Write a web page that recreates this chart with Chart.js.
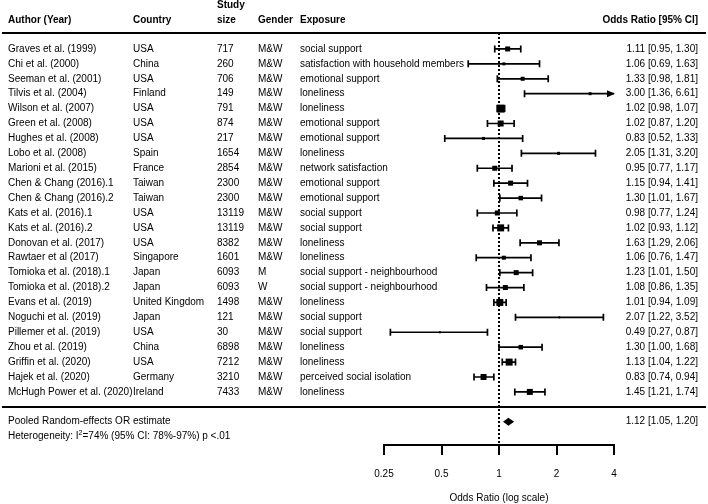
<!DOCTYPE html>
<html>
<head>
<meta charset="utf-8">
<script src="https://cdn.jsdelivr.net/npm/chart.js@4"></script>
<style>
  body { margin: 0; background: #fff; }
</style>
</head>
<body>
<canvas id="forest" width="708" height="504"></canvas>
<script>
// study table
const authors = ["Graves et al. (1999)", "Chi et al. (2000)", "Seeman et al. (2001)", "Tilvis et al. (2004)",
  "Wilson et al. (2007)", "Green et al. (2008)", "Hughes et al. (2008)", "Lobo et al. (2008)",
  "Marioni et al. (2015)", "Chen & Chang (2016).1", "Chen & Chang (2016).2", "Kats et al. (2016).1",
  "Kats et al. (2016).2", "Donovan et al. (2017)", "Rawtaer et al (2017)", "Tomioka et al. (2018).1",
  "Tomioka et al. (2018).2", "Evans et al. (2019)", "Noguchi et al. (2019)", "Pillemer et al. (2019)",
  "Zhou et al. (2019)", "Griffin et al. (2020)", "Hajek et al. (2020)", "McHugh Power et al. (2020)"];
const countries = ["USA", "China", "USA", "Finland", "USA", "USA", "USA", "Spain", "France", "Taiwan", "Taiwan",
  "USA", "USA", "USA", "Singapore", "Japan", "Japan", "United Kingdom", "Japan", "USA", "China", "USA",
  "Germany", "Ireland"];
const studySizes = [717, 260, 706, 149, 791, 874, 217, 1654, 2854, 2300, 2300, 13119, 13119, 8382, 1601,
  6093, 6093, 1498, 121, 30, 6898, 7212, 3210, 7433];
const genders = ["M&W", "M&W", "M&W", "M&W", "M&W", "M&W", "M&W", "M&W", "M&W", "M&W", "M&W", "M&W", "M&W",
  "M&W", "M&W", "M", "W", "M&W", "M&W", "M&W", "M&W", "M&W", "M&W", "M&W"];
const exposures = ["social support", "satisfaction with household members", "emotional support", "loneliness",
  "loneliness", "emotional support", "emotional support", "loneliness", "network satisfaction",
  "emotional support", "emotional support", "social support", "social support", "loneliness", "loneliness",
  "social support - neighbourhood", "social support - neighbourhood", "loneliness", "social support",
  "social support", "loneliness", "loneliness", "perceived social isolation", "loneliness"];

// odds ratios and 95% CI
const oddsRatio = [1.11, 1.06, 1.33, 3.00, 1.02, 1.02, 0.83, 2.05, 0.95, 1.15, 1.30, 0.98, 1.02, 1.63, 1.06,
  1.23, 1.08, 1.01, 2.07, 0.49, 1.30, 1.13, 0.83, 1.45];
const ciLower = [0.95, 0.69, 0.98, 1.36, 0.98, 0.87, 0.52, 1.31, 0.77, 0.94, 1.01, 0.77, 0.93, 1.29, 0.76,
  1.01, 0.86, 0.94, 1.22, 0.27, 1.00, 1.04, 0.74, 1.21];
const ciUpper = [1.30, 1.63, 1.81, 6.61, 1.07, 1.20, 1.33, 3.20, 1.17, 1.41, 1.67, 1.24, 1.12, 2.06, 1.47,
  1.50, 1.35, 1.09, 3.52, 0.87, 1.68, 1.22, 0.94, 1.74];
// square size (weight)
const markerSize = [5, 3, 4, 3, 8, 6, 3, 3, 5, 5, 4.5, 5, 7, 5, 4, 5, 5, 7, 2, 2, 4.5, 7, 6, 6];

// pooled estimate: OR, lower, upper
const pooledEstimate = [1.12, 1.05, 1.20];
const xTicks = [0.25, 0.5, 1, 2, 4];

const FONT = "'Liberation Sans', Arial, sans-serif";
const fmt = v => v.toFixed(2);

const forestPlugin = {
  id: 'forestPlugin',
  beforeDatasetsDraw(chart) {
    const ctx = chart.ctx;
    const xs = chart.scales.x, ys = chart.scales.y;
    const xMin = xs.min, xMax = xs.max;
    ctx.save();
    ctx.strokeStyle = '#000';
    ctx.fillStyle = '#000';

    // table rules
    ctx.lineWidth = 2;
    [-0.07, 25].forEach(r => {
      const y = Math.round(ys.getPixelForValue(r));
      ctx.beginPath();
      ctx.moveTo(2, y);
      ctx.lineTo(706, y);
      ctx.stroke();
    });

    // reference line at OR = 1
    ctx.setLineDash([2, 2]);
    ctx.beginPath();
    const x1 = xs.getPixelForValue(1);
    ctx.moveTo(x1, chart.chartArea.top);
    ctx.lineTo(x1, chart.chartArea.bottom);
    ctx.stroke();
    ctx.setLineDash([]);

    // confidence intervals
    ctx.lineWidth = 1.7;
    oddsRatio.forEach((or, i) => {
      const y = ys.getPixelForValue(i + 1);
      const lo = Math.max(ciLower[i], xMin), hi = Math.min(ciUpper[i], xMax);
      const xl = xs.getPixelForValue(lo), xh = xs.getPixelForValue(hi);
      ctx.beginPath();
      ctx.moveTo(xl, y);
      ctx.lineTo(xh, y);
      if (ciLower[i] >= xMin) { ctx.moveTo(xl, y - 3.5); ctx.lineTo(xl, y + 3.5); }
      if (ciUpper[i] <= xMax) { ctx.moveTo(xh, y - 3.5); ctx.lineTo(xh, y + 3.5); }
      ctx.stroke();
      if (ciUpper[i] > xMax) {
        ctx.beginPath();
        ctx.moveTo(xh + 1, y);
        ctx.lineTo(xh - 7, y - 3.5);
        ctx.lineTo(xh - 7, y + 3.5);
        ctx.closePath();
        ctx.fill();
      }
    });

    // pooled diamond
    const yp = ys.getPixelForValue(26);
    ctx.beginPath();
    ctx.moveTo(xs.getPixelForValue(pooledEstimate[1]), yp);
    ctx.lineTo(xs.getPixelForValue(pooledEstimate[0]), yp - 4);
    ctx.lineTo(xs.getPixelForValue(pooledEstimate[2]), yp);
    ctx.lineTo(xs.getPixelForValue(pooledEstimate[0]), yp + 4);
    ctx.closePath();
    ctx.fill();
    ctx.restore();
  },
  afterDatasetsDraw(chart) {
    const ctx = chart.ctx;
    const ys = chart.scales.y;
    ctx.save();
    ctx.fillStyle = '#000';
    ctx.textBaseline = 'middle';

    // header
    ctx.font = 'bold 10px ' + FONT;
    const yh = ys.getPixelForValue(-0.95);
    ctx.textAlign = 'left';
    ctx.fillText('Author (Year)', 8, yh);
    ctx.fillText('Country', 133, yh);
    ctx.fillText('Study', 217, ys.getPixelForValue(-1.95));
    ctx.fillText('size', 217, yh);
    ctx.fillText('Gender', 258, yh);
    ctx.fillText('Exposure', 300, yh);
    ctx.textAlign = 'right';
    ctx.fillText('Odds Ratio [95% CI]', 698, yh);

    // rows
    ctx.font = '10px ' + FONT;
    authors.forEach((a, i) => {
      const y = ys.getPixelForValue(i + 1);
      ctx.textAlign = 'left';
      ctx.fillText(a, 8, y);
      ctx.fillText(countries[i], 133, y);
      ctx.fillText(String(studySizes[i]), 217, y);
      ctx.fillText(genders[i], 258, y);
      ctx.fillText(exposures[i], 300, y);
      ctx.textAlign = 'right';
      ctx.fillText(fmt(oddsRatio[i]) + ' [' + fmt(ciLower[i]) + ', ' + fmt(ciUpper[i]) + ']', 698, y);
    });

    // pooled row
    const yp = ys.getPixelForValue(26);
    ctx.textAlign = 'left';
    ctx.fillText('Pooled Random-effects OR estimate', 8, yp);
    ctx.textAlign = 'right';
    ctx.fillText(fmt(pooledEstimate[0]) + ' [' + fmt(pooledEstimate[1]) + ', ' + fmt(pooledEstimate[2]) + ']', 698, yp);

    // heterogeneity with superscript
    const yhet = ys.getPixelForValue(27);
    ctx.textAlign = 'left';
    let x = 8;
    const p1 = 'Heterogeneity: I';
    ctx.fillText(p1, x, yhet);
    x += ctx.measureText(p1).width;
    ctx.font = '7px ' + FONT;
    ctx.fillText('2', x, yhet - 4);
    x += ctx.measureText('2').width;
    ctx.font = '10px ' + FONT;
    ctx.fillText('=74% (95% CI: 78%-97%) p <.01', x, yhet);
    ctx.restore();
  }
};

new Chart('forest', {
  type: 'scatter',
  data: {
    datasets: [{
      data: oddsRatio.map((v, i) => ({ x: v, y: i + 1 })),
      pointStyle: 'rect',
      pointRadius: markerSize.map(s => s / Math.SQRT2),
      pointBorderWidth: 0,
      backgroundColor: '#000',
      borderColor: '#000'
    }]
  },
  options: {
    responsive: false,
    animation: false,
    layout: { padding: { left: 384, right: 94, top: 33, bottom: 0 } },
    plugins: { legend: { display: false }, tooltip: { enabled: false } },
    scales: {
      x: {
        type: 'logarithmic',
        min: 0.25,
        max: 4,
        afterBuildTicks: s => { s.ticks = xTicks.map(v => ({ value: v })); },
        afterFit: s => { s.height = 59; },
        grid: { drawOnChartArea: false, drawTicks: true, tickLength: 10, color: '#000', lineWidth: 2 },
        border: { display: true, color: '#000', width: 2 },
        ticks: {
          color: '#000',
          font: { family: FONT, size: 10 },
          padding: 13,
          autoSkip: false,
          maxRotation: 0,
          callback: v => String(v)
        },
        title: {
          display: true,
          text: 'Odds Ratio (log scale)',
          color: '#000',
          font: { family: FONT, size: 10 },
          padding: 0
        }
      },
      y: { type: 'linear', reverse: true, min: -0.07, max: 27.56, display: false }
    }
  },
  plugins: [forestPlugin]
});
</script>
</body>
</html>
